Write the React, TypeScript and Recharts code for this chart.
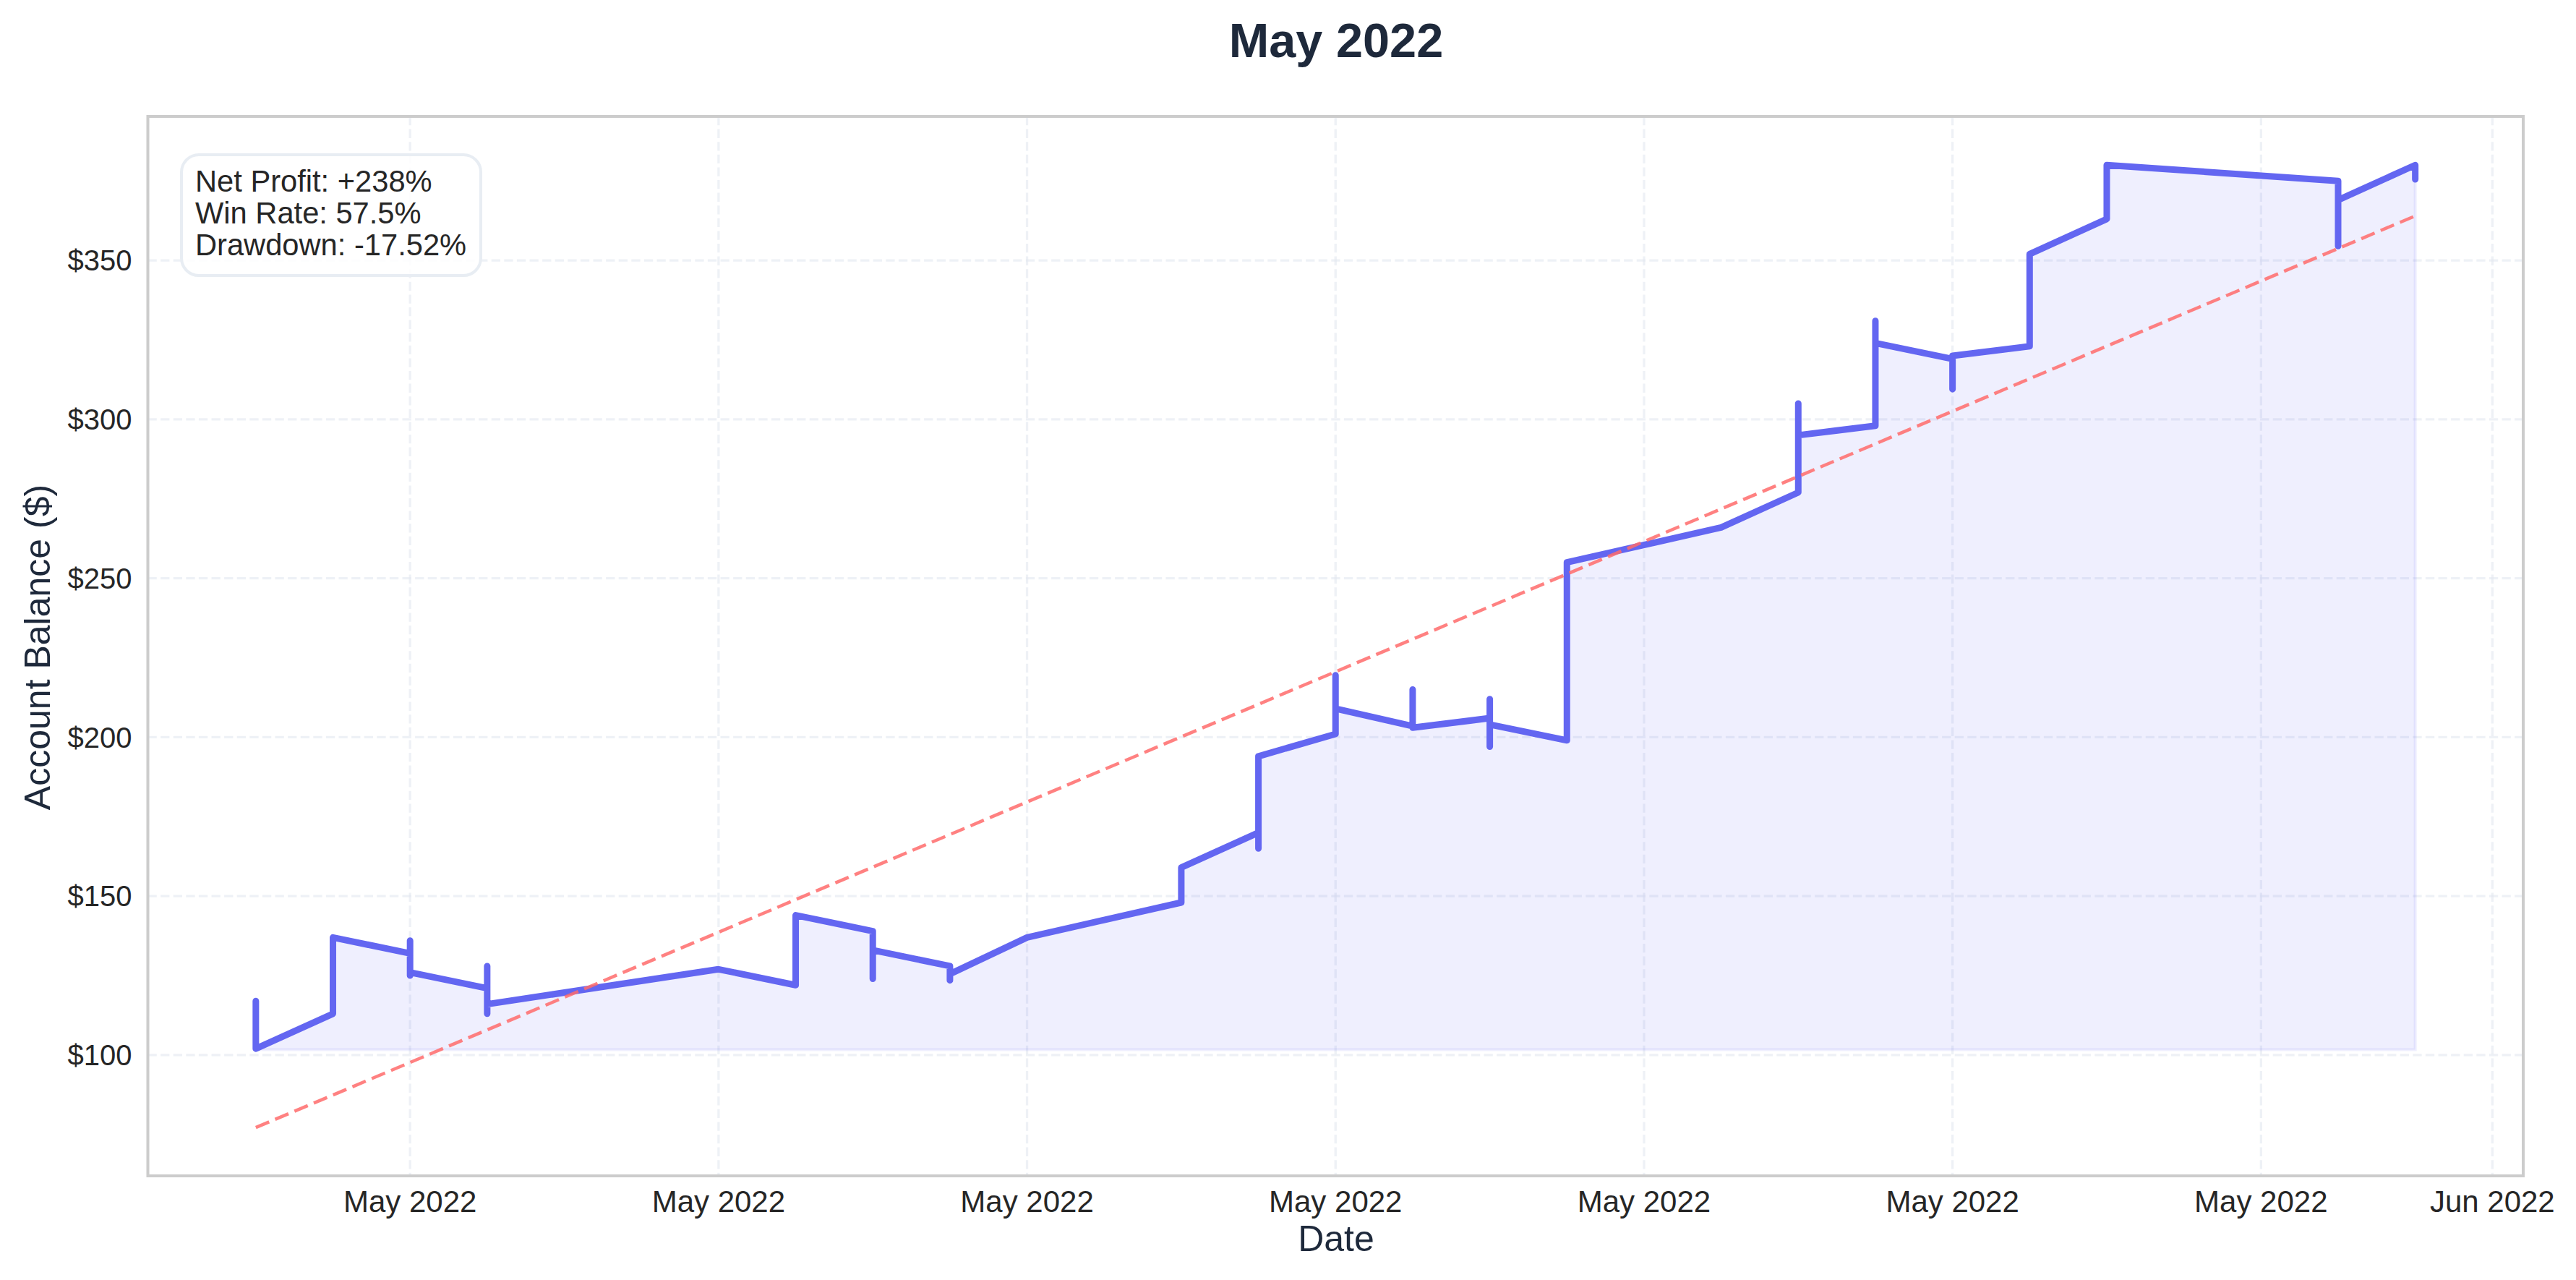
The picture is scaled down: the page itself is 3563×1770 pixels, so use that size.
import React from "react"
import {
  Area,
  CartesianGrid,
  ComposedChart,
  Line,
  ReferenceArea,
  XAxis,
  YAxis,
} from "recharts"

const DAY = 24 * 60 * 60 * 1000
const toMs = (d: string) => Date.parse(d + "T00:00:00Z")

// several trades land on one date, so dates repeat and the line jumps vertically
const balanceDates = [
  "2022-05-03", "2022-05-03", "2022-05-03",
  "2022-05-04", "2022-05-04", "2022-05-04",
  "2022-05-05", "2022-05-05", "2022-05-05", "2022-05-05",
  "2022-05-06", "2022-05-06", "2022-05-06", "2022-05-06",
  "2022-05-09",
  "2022-05-10", "2022-05-10",
  "2022-05-11", "2022-05-11", "2022-05-11",
  "2022-05-12", "2022-05-12", "2022-05-12",
  "2022-05-13",
  "2022-05-15", "2022-05-15",
  "2022-05-16", "2022-05-16", "2022-05-16",
  "2022-05-17", "2022-05-17", "2022-05-17",
  "2022-05-18", "2022-05-18", "2022-05-18",
  "2022-05-19", "2022-05-19", "2022-05-19", "2022-05-19",
  "2022-05-20", "2022-05-20", "2022-05-20", "2022-05-20",
  "2022-05-22",
  "2022-05-23", "2022-05-23", "2022-05-23",
  "2022-05-24", "2022-05-24", "2022-05-24",
  "2022-05-25", "2022-05-25", "2022-05-25",
  "2022-05-26", "2022-05-26",
  "2022-05-27", "2022-05-27",
  "2022-05-30", "2022-05-30", "2022-05-30",
  "2022-05-31", "2022-05-31",
]
const balanceValues = [
  110, 117, 102,
  113, 120, 137,
  132, 136, 125, 126,
  121, 128, 113, 116,
  127,
  122, 144,
  139, 124, 133,
  128, 123.5, 125.5,
  137,
  148, 159,
  170, 165, 194,
  201, 219.5, 209,
  203.5, 215, 203,
  206, 212, 197, 204,
  199, 232, 222, 255,
  266,
  277, 305, 295,
  298, 331, 324,
  319, 309.5, 320,
  323, 352,
  363, 380,
  375, 354.5, 369,
  380, 375.5,
]

const trendDates = ["2022-05-03", "2022-05-31"]
const trendValues = [77.2, 364]

const edgeDates = ["2022-05-03", "2022-05-31", "2022-05-31"]
const edgeValues = [101.7, 101.7, 375.5]

const xTicks = [
  "2022-05-05", "2022-05-09", "2022-05-13", "2022-05-17",
  "2022-05-21", "2022-05-25", "2022-05-29", "2022-06-01",
].map(toMs)
const yTicks = [100, 150, 200, 250, 300, 350]
const statLines = ["Net Profit: +238%", "Win Rate: 57.5%", "Drawdown: -17.52%"]

const xDomain = [toMs("2022-05-03") - 1.4 * DAY, toMs("2022-05-31") + 1.4 * DAY]
const yDomain = [62, 395.3]

const balanceData = balanceDates.map((d, i) => ({ time: toMs(d), balance: balanceValues[i] }))
const trendData = trendDates.map((d, i) => ({ time: toMs(d), trend: trendValues[i] }))
const edgeData = edgeDates.map((d, i) => ({ time: toMs(d), edge: edgeValues[i] }))

const FONT = '"Liberation Sans", Arial, sans-serif'
const formatMonth = (t: number) =>
  new Date(t).toLocaleDateString("en-US", { month: "short", year: "numeric", timeZone: "UTC" })

export default function App() {
  return (
    <div style={{ position: "absolute", left: 0, top: 0, width: 3563, height: 1770, background: "#fff" }}>
      <ComposedChart
        width={3563}
        height={1770}
        data={balanceData}
        margin={{ top: 161, right: 73, bottom: 0, left: 0 }}
        style={{ fontFamily: FONT }}
      >
        <CartesianGrid stroke="#e2e8f0" strokeOpacity={0.6} strokeWidth={3.3} strokeDasharray="12.3 5.3" />
        <XAxis
          dataKey="time"
          type="number"
          domain={xDomain}
          ticks={xTicks}
          tickFormatter={formatMonth}
          height={144}
          axisLine={false}
          tickLine={false}
          tickMargin={14}
          interval={0}
          tick={{ fontSize: 42, fill: "#262626" }}
        />
        <YAxis
          type="number"
          domain={yDomain}
          ticks={yTicks}
          tickFormatter={(v: number) => `$${v}`}
          width={204.5}
          axisLine={false}
          tickLine={false}
          tickMargin={16}
          interval={0}
          tick={{ fontSize: 40, fill: "#262626" }}
        />
        <Area
          dataKey="balance"
          type="linear"
          baseValue={101.7}
          fill="#6366f1"
          fillOpacity={0.1}
          stroke="none"
          dot={false}
          activeDot={false}
          isAnimationActive={false}
        />
        <Line
          data={edgeData}
          dataKey="edge"
          type="linear"
          stroke="#6366f1"
          strokeOpacity={0.1}
          strokeWidth={4}
          dot={false}
          activeDot={false}
          isAnimationActive={false}
        />
        <Line
          dataKey="balance"
          type="linear"
          stroke="#6366f1"
          strokeWidth={9}
          strokeLinecap="round"
          strokeLinejoin="round"
          dot={false}
          activeDot={false}
          isAnimationActive={false}
        />
        <Line
          data={trendData}
          dataKey="trend"
          type="linear"
          stroke="#ff6b6b"
          strokeOpacity={0.85}
          strokeWidth={4.5}
          strokeDasharray="20 9"
          dot={false}
          activeDot={false}
          isAnimationActive={false}
        />
        <ReferenceArea
          x1={xDomain[0]}
          x2={xDomain[1]}
          y1={yDomain[0]}
          y2={yDomain[1]}
          fill="none"
          stroke="#cccccc"
          strokeWidth={4}
        />
        <text x={1848} y={79} textAnchor="middle" fontSize={66.67} fontWeight="bold" fill="#1e293b" fontFamily={FONT}>
          May 2022
        </text>
        <text x={1848} y={1730} textAnchor="middle" fontSize={50} fill="#1e293b" fontFamily={FONT}>
          Date
        </text>
        <text
          transform="translate(69 895) rotate(-90)"
          textAnchor="middle"
          fontSize={50}
          fill="#1e293b"
          fontFamily={FONT}
        >
          Account Balance ($)
        </text>
        <rect x={251} y={214} width={414} height={167} rx={24} fill="#ffffff" fillOpacity={0.85} stroke="#e8edf3" strokeWidth={4} />
        {statLines.map((line, i) => (
          <text key={line} x={270} y={265 + i * 44} fontSize={41.67} fill="#262626" fontFamily={FONT}>
            {line}
          </text>
        ))}
      </ComposedChart>
    </div>
  )
}
